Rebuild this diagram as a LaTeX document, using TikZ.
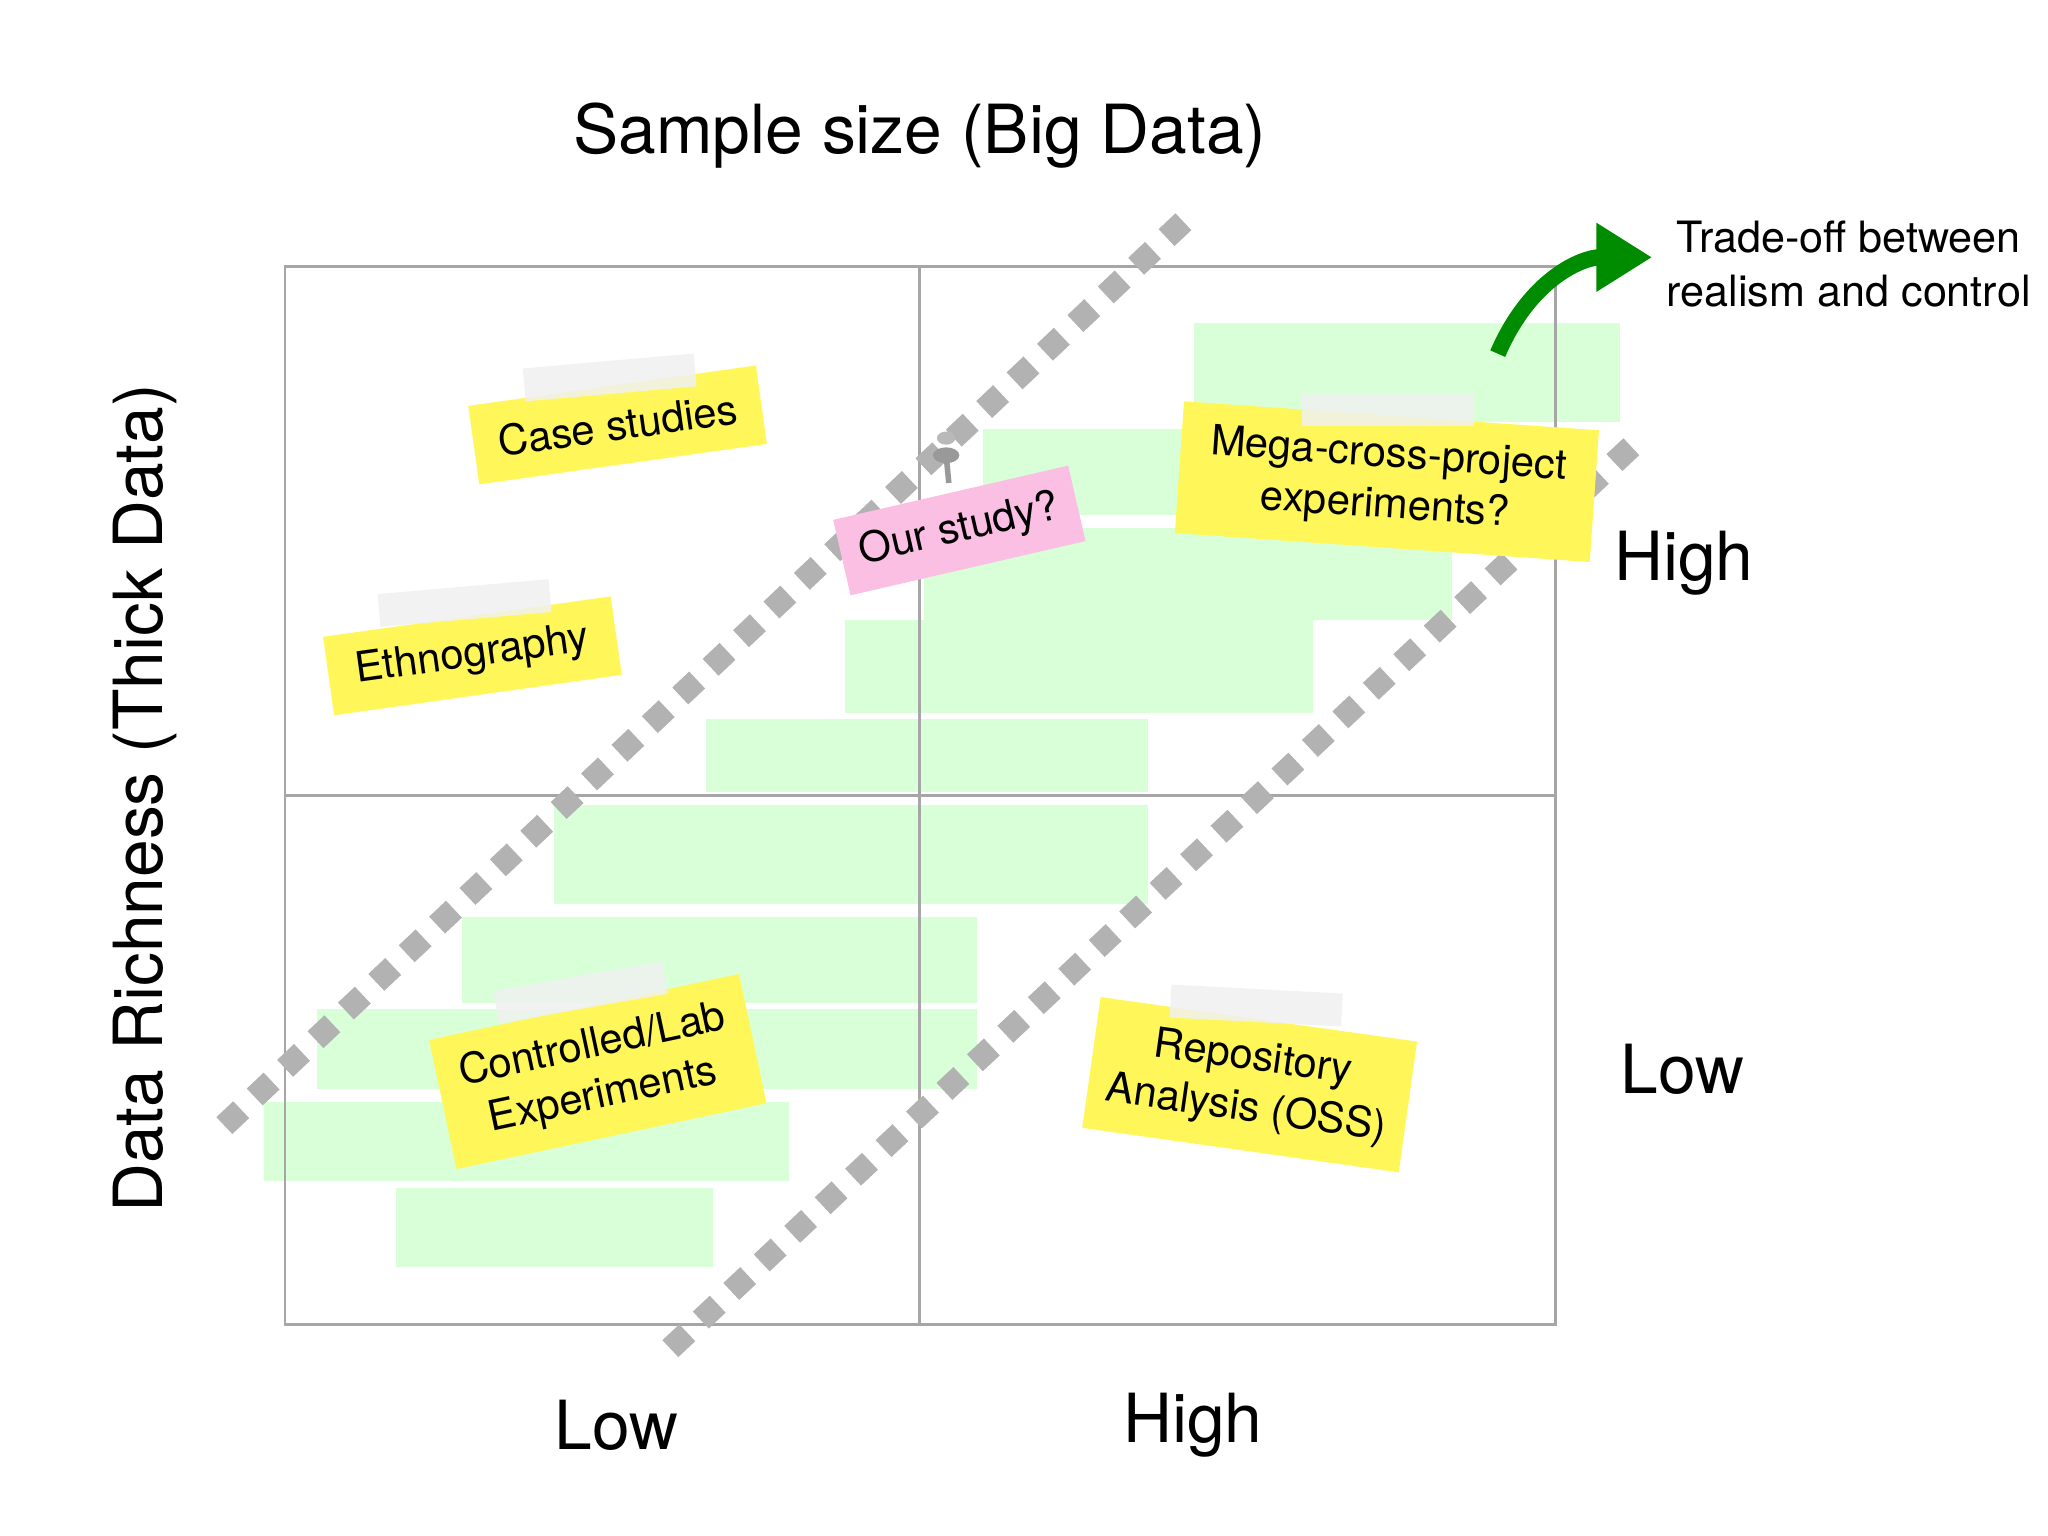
\documentclass[tikz,border=0pt]{standalone}
\usepackage{fontspec}
\setmainfont{TeX Gyre Heros}
\usetikzlibrary{arrows.meta}
\begin{document}
\begin{tikzpicture}[x=0.01cm,y=-0.01cm,
  grid/.style={draw=gray!70,line width=0.6pt},
  dots/.style={draw=gray!60,line width=5pt,dash pattern=on 5pt off 4pt},
  band/.style={fill=green!22,opacity=0.7},
  sticky/.style={fill=yellow!65,align=center,font=\fontsize{9}{11}\selectfont,inner sep=4pt},
  tape/.style={fill=gray!12,opacity=0.85,minimum width=1.3cm,minimum height=0.25cm,inner sep=0pt},
  big/.style={font=\fontsize{14.6}{18}\selectfont}]
\useasboundingbox (0,0) rectangle (1552,1164);
% green scribble bands
\foreach \a/\b/\c/\d in {905/245/1228/320, 745/325/1160/390, 700/400/1100/470, 640/470/995/540, 535/545/870/600, 420/610/870/685, 350/695/740/760, 240/765/740/825, 200/835/598/895, 300/900/540/960}
  \fill[band] (\a,\b) rectangle (\c,\d);
% grid
\draw[grid] (216,202) coordinate (tl) rectangle (1179,1004) coordinate (br);
\draw[grid] (697,202) coordinate (tm) -- (697,1004) coordinate (bm);
\draw[grid] (216,603) coordinate (ml) -- (1179,603) coordinate (mr);
% dotted diagonals
\coordinate (d1a) at (170,853); \coordinate (d1b) at (900,165);
\coordinate (d2a) at (508,1022); \coordinate (d2b) at (1240,335);
\draw[dots] (d1a) -- (d1b);
\draw[dots] (d2a) -- (d2b);
% labels
\node[big] (title) at (697,103) {Sample size (Big Data)};
\node[big,rotate=90] (ylab) at (110,605) {Data Richness (Thick Data)};
\node[big] (hr) at (1276,427) {High};
\node[big] (lr) at (1275,810) {Low};
\node[big] (lb) at (467,1080) {Low};
\node[big] (hb) at (904,1080) {High};
% sticky notes
\node[sticky,rotate=8,minimum width=2.2cm,minimum height=0.6cm] (cs) at (468,322) {Case studies};
\node[tape,rotate=5] (t1) at (462,286) {};
\node[sticky,rotate=8,minimum width=2.2cm,minimum height=0.6cm] (eth) at (358,497) {Ethnography};
\node[tape,rotate=5] (t2) at (352,457) {};
\node[sticky,rotate=12,minimum width=2.4cm,minimum height=1cm] (cl) at (453,812) {Controlled/Lab\\Experiments};
\node[tape,rotate=10] (t3) at (440,752) {};
\node[sticky,rotate=-8,minimum width=2.25cm,minimum height=1cm] (repo) at (947,822) {Repository\\Analysis (OSS)};
\node[tape,rotate=-3] (t4) at (952,762) {};
\node[sticky,rotate=-4,minimum width=3.15cm,minimum height=1cm] (mega) at (1051,365) {Mega-cross-project\\experiments?};
\node[tape] (t5) at (1052,310) {};
\node[sticky,fill=magenta!25,rotate=13] (ours) at (727,402) {Our study?};
% pin
\coordinate (pin) at (717,345);
\draw[gray!80,line width=1.2pt] (pin) -- (719,366);
\fill[gray!80] (pin) ellipse (10 and 6);
\fill[gray!55] (717,332) ellipse (7 and 5);
% arrow
\coordinate (as) at (1135,268); \coordinate (ae) at (1252,195);
\draw[-{Triangle[length=12pt,width=14pt]},line width=3.5pt,draw=green!55!black,color=green!55!black] (as) .. controls (1160,210) and (1200,195) .. (ae);
\node[align=center,font=\fontsize{9.3}{11.5}\selectfont] (to) at (1401,200) {Trade-off between\\realism and control};
\end{tikzpicture}
\end{document}
